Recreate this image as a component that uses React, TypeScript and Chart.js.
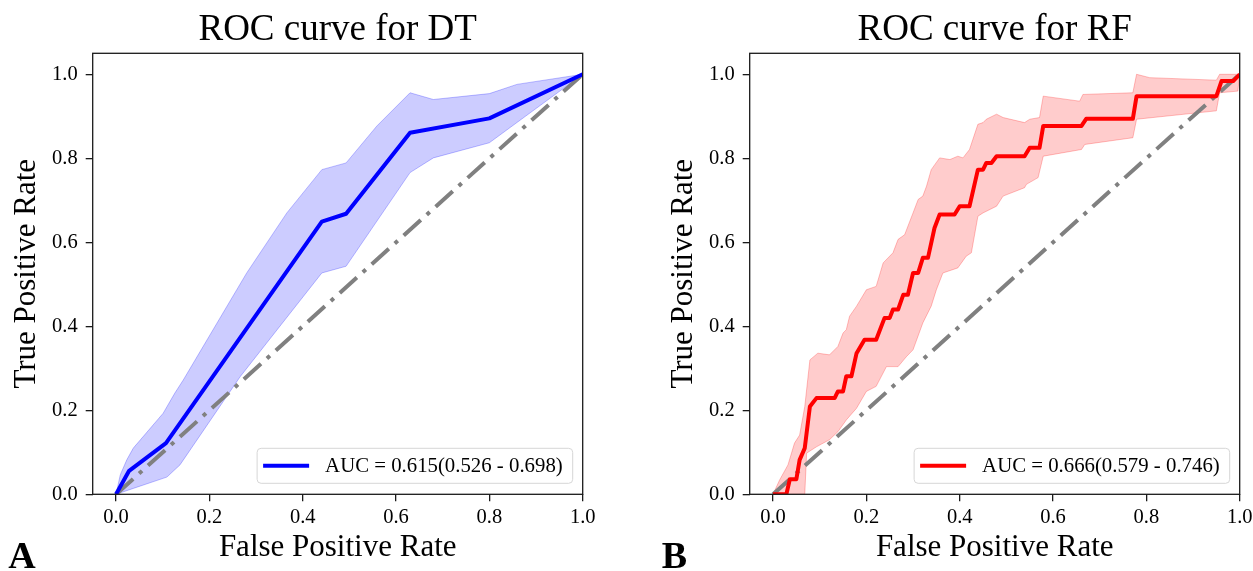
import React, { useEffect, useRef } from 'react';
import { Chart, registerables } from 'chart.js';

Chart.register(...registerables);

// ---------- data ----------
const TICKS = [0, 0.2, 0.4, 0.6, 0.8, 1.0];
const TICK_LABELS = ['0.0', '0.2', '0.4', '0.6', '0.8', '1.0'];

const DIAG_FPR = [0, 1];
const DIAG_TPR = [0, 1];

const DT_LABEL = 'AUC = 0.615(0.526 - 0.698)';
const DT_MEAN_FPR = [0, 0.028, 0.107, 0.441, 0.493, 0.630, 0.800, 1.0];
const DT_MEAN_TPR = [0, 0.056, 0.122, 0.649, 0.668, 0.861, 0.895, 1.0];
const DT_UPPER_FPR = [0, 0.009, 0.023, 0.037, 0.101, 0.126, 0.144, 0.280, 0.366, 0.441, 0.493, 0.559, 0.630, 0.680, 0.800, 0.859, 1.0];
const DT_UPPER_TPR = [0, 0.046, 0.082, 0.110, 0.193, 0.241, 0.272, 0.527, 0.670, 0.773, 0.789, 0.877, 0.956, 0.940, 0.954, 0.976, 1.0];
const DT_LOWER_FPR = [0, 0.037, 0.109, 0.137, 0.266, 0.441, 0.493, 0.630, 0.680, 0.800, 1.0];
const DT_LOWER_TPR = [0, 0.014, 0.041, 0.070, 0.280, 0.527, 0.543, 0.766, 0.801, 0.837, 1.0];

const RF_LABEL = 'AUC = 0.666(0.579 - 0.746)';
const RF_MEAN_FPR = [0, 0.0286, 0.036, 0.05, 0.057, 0.068, 0.079, 0.093, 0.132, 0.139, 0.150, 0.157, 0.168, 0.179, 0.196, 0.221, 0.239, 0.250, 0.257, 0.268, 0.279, 0.289, 0.300, 0.311, 0.321, 0.332, 0.346, 0.357, 0.389, 0.400, 0.421, 0.439, 0.450, 0.457, 0.468, 0.479, 0.539, 0.550, 0.571, 0.579, 0.661, 0.671, 0.771, 0.779, 0.950, 0.961, 0.986, 1.0];
const RF_MEAN_TPR = [0, 0, 0.036, 0.036, 0.082, 0.110, 0.209, 0.229, 0.229, 0.245, 0.245, 0.281, 0.281, 0.336, 0.368, 0.368, 0.420, 0.420, 0.440, 0.440, 0.475, 0.475, 0.527, 0.527, 0.563, 0.563, 0.634, 0.666, 0.666, 0.686, 0.686, 0.773, 0.773, 0.789, 0.789, 0.805, 0.805, 0.825, 0.825, 0.877, 0.877, 0.894, 0.894, 0.948, 0.948, 0.984, 0.984, 1.0];
const RF_UPPER_FPR = [0, 0.014, 0.032, 0.046, 0.057, 0.068, 0.079, 0.096, 0.121, 0.139, 0.150, 0.157, 0.164, 0.179, 0.200, 0.221, 0.236, 0.257, 0.268, 0.282, 0.300, 0.311, 0.321, 0.329, 0.339, 0.357, 0.379, 0.396, 0.407, 0.421, 0.439, 0.450, 0.457, 0.479, 0.493, 0.539, 0.550, 0.571, 0.579, 0.657, 0.664, 0.771, 0.779, 0.807, 0.950, 0.957, 1.0];
const RF_UPPER_TPR = [0, 0.034, 0.070, 0.122, 0.141, 0.209, 0.320, 0.336, 0.332, 0.352, 0.384, 0.392, 0.424, 0.448, 0.487, 0.495, 0.551, 0.575, 0.607, 0.618, 0.670, 0.702, 0.710, 0.734, 0.773, 0.801, 0.797, 0.805, 0.801, 0.821, 0.881, 0.885, 0.893, 0.905, 0.897, 0.885, 0.893, 0.897, 0.948, 0.936, 0.952, 0.956, 1.0, 0.992, 0.986, 1.0, 1.0];
const RF_LOWER_FPR = [0, 0.068, 0.072, 0.093, 0.121, 0.139, 0.157, 0.179, 0.200, 0.221, 0.243, 0.268, 0.286, 0.300, 0.321, 0.339, 0.350, 0.364, 0.396, 0.414, 0.425, 0.439, 0.450, 0.479, 0.493, 0.539, 0.543, 0.568, 0.579, 0.661, 0.668, 0.771, 0.779, 0.950, 0.957, 0.996, 1.0];
const RF_LOWER_TPR = [0, 0, 0.098, 0.113, 0.130, 0.149, 0.177, 0.205, 0.245, 0.257, 0.304, 0.304, 0.328, 0.344, 0.408, 0.448, 0.487, 0.527, 0.539, 0.567, 0.575, 0.662, 0.670, 0.686, 0.710, 0.730, 0.738, 0.754, 0.805, 0.821, 0.833, 0.849, 0.893, 0.913, 0.956, 0.960, 1.0];

// ---------- helpers ----------
const FONT = "'Liberation Serif', 'Times New Roman', serif";
const pts = (xs: number[], ys: number[]) => xs.map((x, i) => ({ x, y: ys[i] }));

const decoPlugin = {
  id: 'rocDeco',
  afterDatasetsDraw(chart: any, _args: any, opts: any) {
    const { ctx, chartArea: a } = chart;
    ctx.save();
    // spines
    ctx.strokeStyle = '#1a1a1a';
    ctx.lineWidth = 1.3;
    ctx.strokeRect(a.left, a.top, a.right - a.left, a.bottom - a.top);
    // legend (lower right)
    const ds = chart.data.datasets[0];
    ctx.font = `20.8px ${FONT}`;
    const tw = ctx.measureText(ds.label).width;
    const padL = 6, handle = 46, gap = 16, padR = 10, h = 35;
    const w = padL + handle + gap + tw + padR;
    const x1 = a.right - 10 - w;
    const y1 = a.bottom - 11 - h;
    const r = 4;
    ctx.beginPath();
    ctx.moveTo(x1 + r, y1);
    ctx.lineTo(x1 + w - r, y1);
    ctx.arcTo(x1 + w, y1, x1 + w, y1 + r, r);
    ctx.lineTo(x1 + w, y1 + h - r);
    ctx.arcTo(x1 + w, y1 + h, x1 + w - r, y1 + h, r);
    ctx.lineTo(x1 + r, y1 + h);
    ctx.arcTo(x1, y1 + h, x1, y1 + h - r, r);
    ctx.lineTo(x1, y1 + r);
    ctx.arcTo(x1, y1, x1 + r, y1, r);
    ctx.closePath();
    ctx.fillStyle = 'rgba(255,255,255,0.8)';
    ctx.fill();
    ctx.strokeStyle = '#d6d6d6';
    ctx.lineWidth = 1;
    ctx.stroke();
    ctx.beginPath();
    ctx.strokeStyle = ds.borderColor;
    ctx.lineWidth = 4;
    ctx.moveTo(x1 + padL, y1 + h / 2);
    ctx.lineTo(x1 + padL + handle, y1 + h / 2);
    ctx.stroke();
    ctx.fillStyle = '#000';
    ctx.textBaseline = 'middle';
    ctx.textAlign = 'left';
    ctx.fillText(ds.label, x1 + padL + handle + gap, y1 + h / 2 + 1);
    // panel label
    ctx.font = `bold 38px ${FONT}`;
    ctx.textBaseline = 'alphabetic';
    ctx.fillText(opts.panel, opts.panelX, 568);
    ctx.restore();
  },
};

function makeConfig(title: string, label: string, color: string, band: string, edge: string,
  meanX: number[], meanY: number[], upX: number[], upY: number[], loX: number[], loY: number[],
  panel: string, panelX: number): any {
  const gridCfg = { display: true, drawOnChartArea: false, drawTicks: true, tickLength: 7, color: '#1a1a1a', lineWidth: 1.3 };
  return {
    type: 'line',
    data: {
      datasets: [
        { label, data: pts(meanX, meanY), borderColor: color, borderWidth: 4, pointRadius: 0, fill: false, borderJoinStyle: 'round', tension: 0 },
        { label: 'chance', data: pts(DIAG_FPR, DIAG_TPR), borderColor: '#808080', borderWidth: 4, borderDash: [23, 8, 4, 8], pointRadius: 0, fill: false },
        { label: 'upper', data: pts(upX, upY), borderColor: edge, borderWidth: 1, backgroundColor: band, pointRadius: 0, fill: '+1' },
        { label: 'lower', data: pts(loX, loY), borderColor: edge, borderWidth: 1, pointRadius: 0, fill: false },
      ],
    },
    options: {
      animation: false,
      responsive: false,
      devicePixelRatio: 1,
      layout: { padding: { left: 0, right: 13.3, top: 0, bottom: 0 }, autoPadding: false },
      plugins: {
        legend: { display: false },
        tooltip: { enabled: false },
        title: {
          display: true, text: title, color: '#000', fullSize: false,
          font: { family: FONT, size: 37, weight: 'normal', lineHeight: 1.2 },
          padding: { top: 8.1, bottom: 0.8 },
        },
        rocDeco: { panel, panelX },
      },
      scales: {
        x: {
          type: 'linear', min: -0.05, max: 1.0,
          afterBuildTicks: (s: any) => { s.ticks = TICKS.map((v) => ({ value: v })); },
          ticks: { callback: (_v: any, i: number) => TICK_LABELS[i], font: { family: FONT, size: 20.5 }, color: '#000', padding: 4, maxRotation: 0, autoSkip: false },
          grid: gridCfg,
          border: { display: false },
          title: { display: true, text: 'False Positive Rate', color: '#000', font: { family: FONT, size: 31, lineHeight: 1.2 }, padding: { top: 0, bottom: 5 } },
          afterFit: (s: any) => { s.height = 76.7; s.paddingLeft = 0; s.paddingRight = 0; },
        },
        y: {
          type: 'linear', min: 0, max: 1.05,
          afterBuildTicks: (s: any) => { s.ticks = TICKS.map((v) => ({ value: v })); },
          ticks: { callback: (_v: any, i: number) => TICK_LABELS[i], font: { family: FONT, size: 20.5 }, color: '#000', padding: 8, autoSkip: false },
          grid: gridCfg,
          border: { display: false },
          title: { display: true, text: 'True Positive Rate', color: '#000', font: { family: FONT, size: 31, lineHeight: 1.2 }, padding: { top: 8.5, bottom: 0 } },
          afterFit: (s: any) => { s.width = 92.7; s.paddingTop = 0; s.paddingBottom = 0; },
        },
      },
    },
    plugins: [decoPlugin],
  };
}

export default function App() {
  const leftRef = useRef<HTMLCanvasElement>(null);
  const rightRef = useRef<HTMLCanvasElement>(null);

  useEffect(() => {
    document.body.style.margin = '0';
    Chart.defaults.font.family = FONT;
    const c1 = new Chart(leftRef.current as HTMLCanvasElement, makeConfig(
      'ROC curve for DT', DT_LABEL, '#0000ff', 'rgba(0,0,255,0.2)', 'rgba(0,0,255,0.25)',
      DT_MEAN_FPR, DT_MEAN_TPR, DT_UPPER_FPR, DT_UPPER_TPR, DT_LOWER_FPR, DT_LOWER_TPR, 'A', 8.3));
    const c2 = new Chart(rightRef.current as HTMLCanvasElement, makeConfig(
      'ROC curve for RF', RF_LABEL, '#ff0000', 'rgba(255,0,0,0.2)', 'rgba(255,0,0,0.25)',
      RF_MEAN_FPR, RF_MEAN_TPR, RF_UPPER_FPR, RF_UPPER_TPR, RF_LOWER_FPR, RF_LOWER_TPR, 'B', 4.7));
    return () => { c1.destroy(); c2.destroy(); };
  }, []);

  return (
    <div style={{ position: 'absolute', left: 0, top: 0, width: 1253, height: 571, background: '#fff', overflow: 'hidden' }}>
      <canvas ref={leftRef} width={596} height={571} style={{ position: 'absolute', left: 0, top: 0, width: 596, height: 571 }} />
      <canvas ref={rightRef} width={596} height={571} style={{ position: 'absolute', left: 657, top: 0, width: 596, height: 571 }} />
    </div>
  );
}
